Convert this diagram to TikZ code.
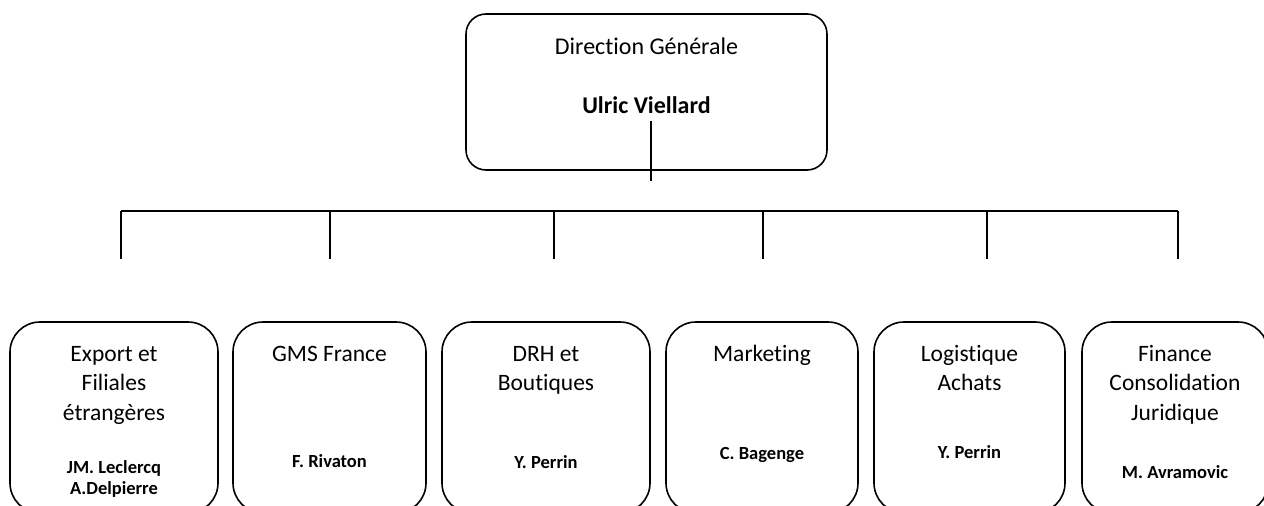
\documentclass[tikz,border=0pt]{standalone}
\usepackage{fontspec}
\setmainfont{Carlito}[RawFeature=-liga]
\begin{document}
\begin{tikzpicture}[x=1pt,y=-1pt,
  line width=1.6pt,
  topbox/.style={draw, rounded corners=20pt, minimum width=361pt, minimum height=156pt, inner sep=0pt},
  unitbox/.style={draw, rounded corners=30pt, minimum height=191pt, inner sep=0pt},
  lbl/.style={anchor=base, inner sep=0pt, font=\fontsize{23.5}{28}\selectfont},
  toplbl/.style={anchor=base, inner sep=0pt, font=\fontsize{24}{29}\selectfont},
  nm/.style={anchor=base, inner sep=0pt, font=\fontsize{18.5}{22}\selectfont\bfseries},
  link/.style={line width=1.8pt}]
\useasboundingbox (0,0) rectangle (1264,506);
\clip (0,0) rectangle (1264,506);
% top box
\node[topbox] (dg) at (646.5,92) {};
\node[toplbl] (dgt) at (646.5,54) {Direction Générale};
\node[toplbl, font=\fontsize{24}{29}\selectfont\bfseries] (dgn) at (646.5,113) {Ulric Viellard};
% bottom boxes
\node[unitbox, minimum width=208pt] (b1) at (114,417.5) {};
\node[unitbox, minimum width=193pt] (b2) at (329.5,417.5) {};
\node[unitbox, minimum width=208pt] (b3) at (546,417.5) {};
\node[unitbox, minimum width=192pt] (b4) at (762,417.5) {};
\node[unitbox, minimum width=191pt] (b5) at (969.5,417.5) {};
\node[unitbox, minimum width=186pt] (b6) at (1175,417.5) {};
% texts
\node[lbl] (t1a) at (114,361) {Export et};
\node[lbl] (t1b) at (114,390.5) {Filiales};
\node[lbl] (t1c) at (114,420) {étrangères};
\node[nm] (n1a) at (114,473) {JM. Leclercq};
\node[nm] (n1b) at (114,494) {A.Delpierre};
\node[lbl] (t2a) at (329.5,361) {GMS France};
\node[nm] (n2) at (329.5,467) {F. Rivaton};
\node[lbl] (t3a) at (546,361) {DRH et};
\node[lbl] (t3b) at (546,390.5) {Boutiques};
\node[nm] (n3) at (546,468) {Y. Perrin};
\node[lbl] (t4a) at (762,361) {Marketing};
\node[nm] (n4) at (762,459) {C. Bagenge};
\node[lbl] (t5a) at (969.5,361) {Logistique};
\node[lbl] (t5b) at (969.5,390.5) {Achats};
\node[nm] (n5) at (969.5,458) {Y. Perrin};
\node[lbl] (t6a) at (1175,361) {Finance};
\node[lbl] (t6b) at (1175,390.5) {Consolidation};
\node[lbl] (t6c) at (1175,420) {Juridique};
\node[nm] (n6) at (1175,478) {M. Avramovic};
% connectors
\coordinate (s0) at (651,121);
\coordinate (s1) at (651,181);
\coordinate (hl) at (121,211);
\coordinate (hr) at (1178,211);
\draw[link] (s0) -- (s1);
\draw[link] (hl) -- (hr);
\foreach \x/\n in {121/1,330/2,554/3,763/4,987/5,1178/6}{
  \coordinate (d\n a) at (\x,211);
  \coordinate (d\n b) at (\x,259);
  \draw[link] (d\n a) -- (d\n b);
}
\end{tikzpicture}
\end{document}
